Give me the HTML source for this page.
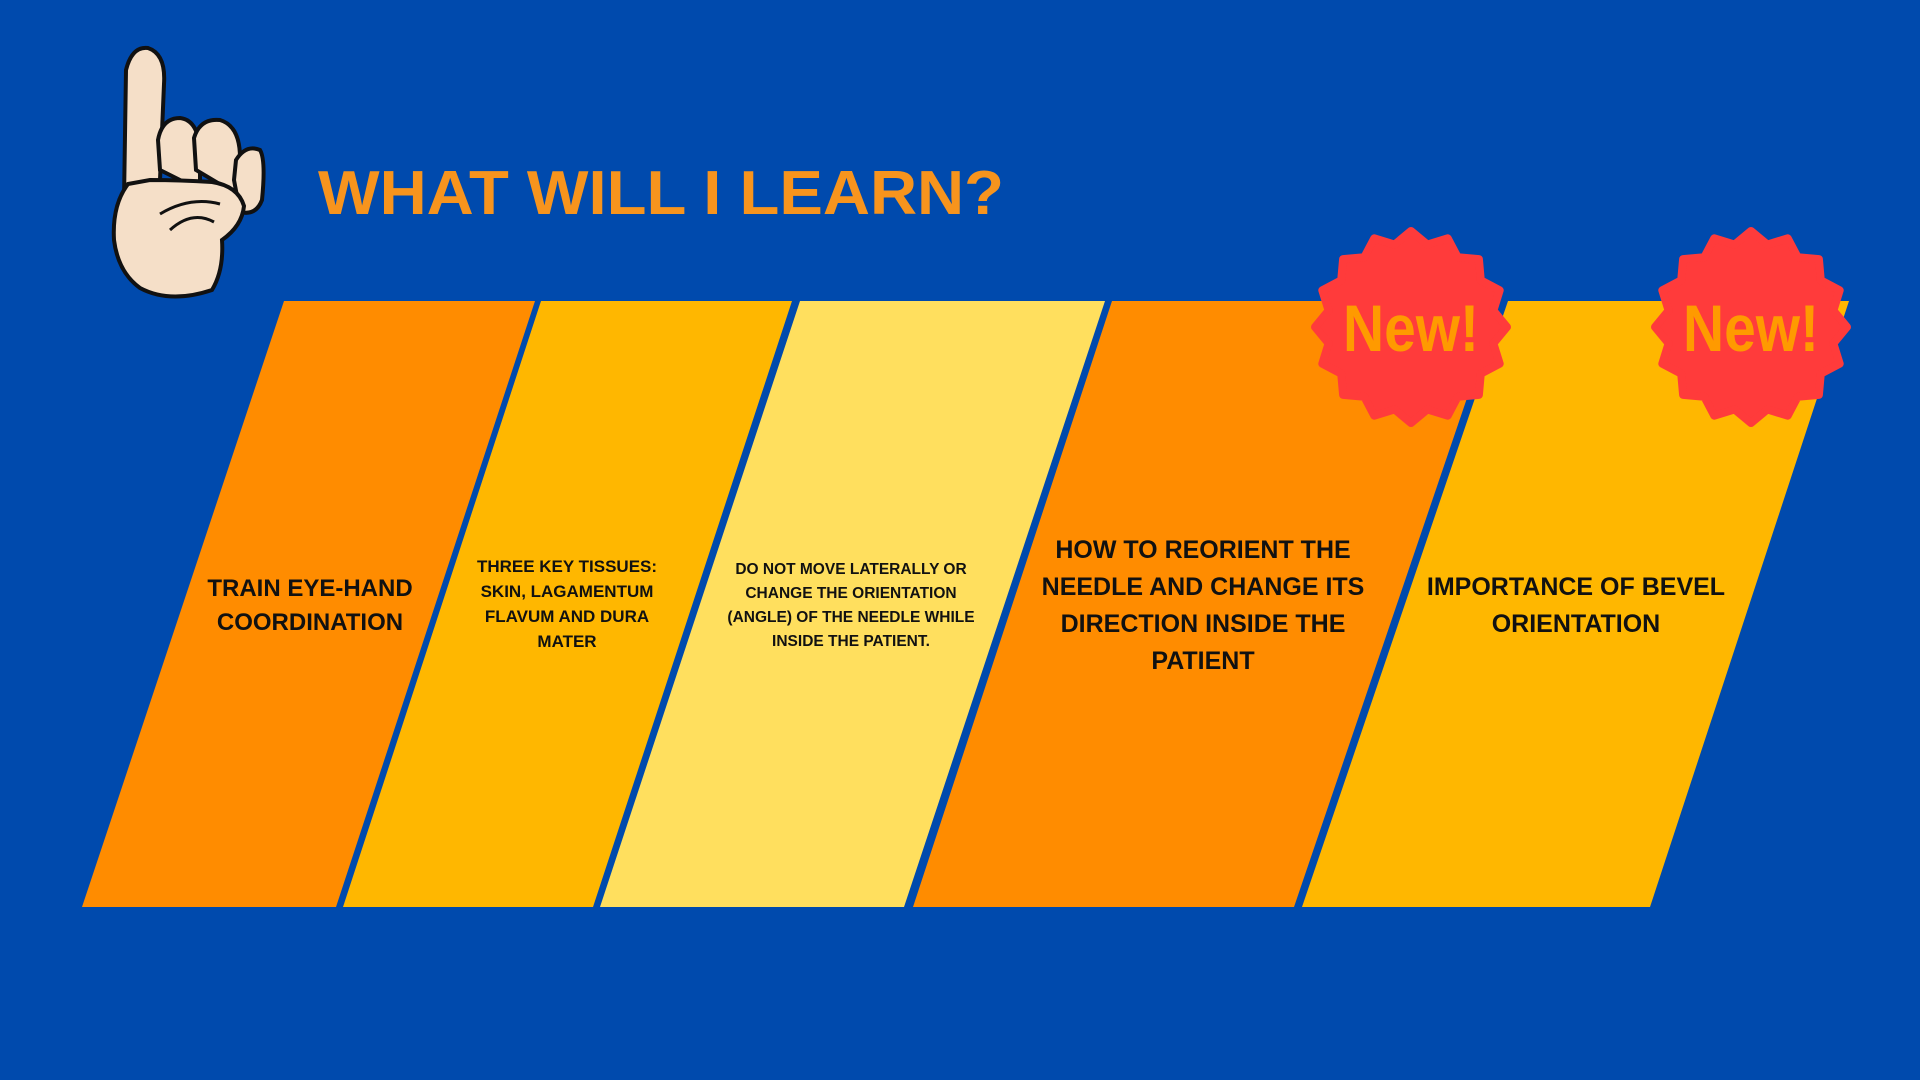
<!DOCTYPE html>
<html><head><meta charset="utf-8"><style>
html,body{margin:0;padding:0;background:#004AAD;}
svg{display:block;}
text{font-family:"Liberation Sans",sans-serif;font-weight:bold;}
</style></head><body>
<svg width="1920" height="1080" viewBox="0 0 1920 1080">
<rect width="1920" height="1080" fill="#004AAD"/>
<g stroke="#111" stroke-width="4" fill="#F5DFC8">
<path d="M124 200 L126 70 Q132 46 148 48 Q166 54 164 84 L160 180 Z"/>
<path d="M160 170 L158 140 Q162 118 180 118 Q198 120 200 150 L200 190 Z"/>
<path d="M196 170 L194 138 Q200 118 220 120 Q240 126 240 158 L238 195 Z"/>
<path d="M234 180 L236 160 Q246 144 260 150 Q266 160 262 200 Q256 216 240 212 Z"/>
<path d="M128 184 Q112 205 114 240 Q118 272 140 288 Q170 304 212 290 Q224 270 222 240 Q242 226 244 206 Q238 186 212 182 Q180 180 150 180 Z"/>
<path d="M170 230 Q192 210 214 222" fill="none" stroke-width="3"/>
<path d="M160 214 Q190 196 220 204" fill="none" stroke-width="3"/>
</g>
<text x="318" y="214" font-size="62" fill="#F7941D" textLength="686" lengthAdjust="spacingAndGlyphs">WHAT  WILL I LEARN?</text>
<polygon points="284,301 535,301 336,907 82,907" fill="#FF8C00"/>
<polygon points="541,301 792,301 593,907 343,907" fill="#FFB700"/>
<polygon points="800,301 1105,301 904,907 600,907" fill="#FFDF5E"/>
<polygon points="1112,301 1500,301 1294,907 913,907" fill="#FF8C00"/>
<polygon points="1508,301 1849,301 1650,907 1302,907" fill="#FFB700"/>
<g fill="#111" text-anchor="middle">
<text x="310" y="596" font-size="24"><tspan x="310">TRAIN EYE-HAND</tspan><tspan x="310" dy="34">COORDINATION</tspan></text>
<text x="567" y="572" font-size="17"><tspan x="567">THREE KEY TISSUES:</tspan><tspan x="567" dy="25">SKIN, LAGAMENTUM</tspan><tspan x="567" dy="25">FLAVUM AND DURA</tspan><tspan x="567" dy="25">MATER</tspan></text>
<text x="851" y="574" font-size="15.5"><tspan x="851">DO NOT MOVE LATERALLY OR</tspan><tspan x="851" dy="24">CHANGE THE ORIENTATION</tspan><tspan x="851" dy="24">(ANGLE) OF THE NEEDLE WHILE</tspan><tspan x="851" dy="24">INSIDE THE PATIENT.</tspan></text>
<text x="1203" y="558" font-size="25"><tspan x="1203">HOW TO REORIENT THE</tspan><tspan x="1203" dy="37">NEEDLE AND CHANGE ITS</tspan><tspan x="1203" dy="37">DIRECTION INSIDE THE</tspan><tspan x="1203" dy="37">PATIENT</tspan></text>
<text x="1576" y="595" font-size="25"><tspan x="1576">IMPORTANCE OF BEVEL</tspan><tspan x="1576" dy="37">ORIENTATION</tspan></text>
</g>
<g id="badges"></g>
</svg>
<script>
const badgeX=[1411,1751];
const badgeY=[327,327];
const g=document.getElementById('badges');
const ns='http://www.w3.org/2000/svg';
badgeX.forEach((cx,i)=>{
  const cy=badgeY[i];
  let pts=[];const n=16;
  for(let k=0;k<n*2;k++){
    const r=k%2===0?96:84;
    const a=-Math.PI/2+k*Math.PI/n;
    pts.push((cx+r*Math.cos(a)).toFixed(1)+','+(cy+r*Math.sin(a)).toFixed(1));
  }
  const p=document.createElementNS(ns,'polygon');
  p.setAttribute('points',pts.join(' '));
  p.setAttribute('fill','#FF3B3B');
  p.setAttribute('stroke','#FF3B3B');p.setAttribute('stroke-width','8');p.setAttribute('stroke-linejoin','round');
  
  
  g.appendChild(p);
  const t=document.createElementNS(ns,'text');
  t.setAttribute('x',cx);t.setAttribute('y',cy+24);
  t.setAttribute('text-anchor','middle');t.setAttribute('font-size','66');
  t.setAttribute('fill','#FF9A00');
  t.setAttribute('textLength','136');t.setAttribute('lengthAdjust','spacingAndGlyphs');
  t.textContent='New!';
  
  
  g.appendChild(t);
});
</script>
</body></html>
